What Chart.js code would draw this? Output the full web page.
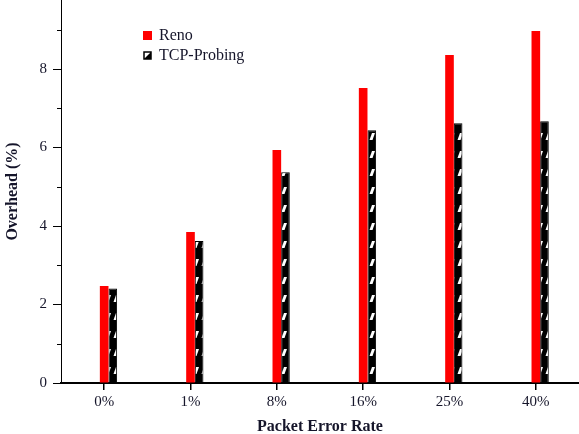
<!DOCTYPE html>
<html>
<head>
<meta charset="utf-8">
<script src="https://cdn.jsdelivr.net/npm/chart.js@4.4.1/dist/chart.umd.min.js"></script>
<style>
  html, body { margin: 0; padding: 0; background: #fff; }
  #wrap { width: 579px; height: 434px; position: relative; }
</style>
</head>
<body>
<div id="wrap"><canvas id="overheadChart"></canvas></div>
<script>
// --- data ---
const categories = ['0%', '1%', '8%', '16%', '25%', '40%'];
const renoValues = [2.47, 3.85, 5.94, 7.52, 8.36, 8.97];
const probingValues = [2.41, 3.62, 5.37, 6.44, 6.62, 6.67];
const yMajorTicks = [0, 2, 4, 6, 8];
const yMinorTicks = [1, 3, 5, 7, 9];
const seriesNames = ['Reno', 'TCP-Probing'];

const SERIF = '"Liberation Serif", "Times New Roman", serif';
const TEXT = '#15152a';

// black bar with white slanted dashes
function makeHatch() {
    const c = document.createElement('canvas');
    c.width = 8; c.height = 18;
    const g = c.getContext('2d');
    g.fillStyle = '#000';
    g.fillRect(0, 0, 8, 18);
    g.fillStyle = '#fff';
    g.beginPath();
    g.moveTo(1.5, 14); g.lineTo(4.5, 14); g.lineTo(7, 7); g.lineTo(4, 7);
    g.closePath();
    g.fill();
    return g.createPattern(c, 'repeat');
}
const hatch = makeHatch();

// short minor ticks on the y axis + legend inside the plot
const extras = {
    id: 'extras',
    afterDraw(chart) {
        const ctx = chart.ctx;
        const y = chart.scales.y;
        const left = chart.chartArea.left;
        ctx.save();
        ctx.strokeStyle = '#000';
        ctx.lineWidth = 1;
        yMinorTicks.forEach(v => {
            const py = Math.round(y.getPixelForValue(v)) + 0.5;
            ctx.beginPath();
            ctx.moveTo(left - 4, py);
            ctx.lineTo(left, py);
            ctx.stroke();
        });

        // legend
        const lx = left + 82, ly = chart.chartArea.top + 35;
        ctx.font = '16px ' + SERIF;
        ctx.textBaseline = 'middle';
        ctx.fillStyle = '#ff0000';
        ctx.fillRect(lx, ly - 4, 9, 9);
        ctx.fillStyle = TEXT;
        ctx.fillText(seriesNames[0], lx + 16, ly + 1);

        const ty = ly + 20;
        ctx.fillStyle = '#fff';
        ctx.fillRect(lx + 1, ty - 3, 7, 7);
        ctx.fillStyle = '#000';
        ctx.beginPath();
        ctx.moveTo(lx + 8, ty - 3); ctx.lineTo(lx + 8, ty + 4); ctx.lineTo(lx + 1, ty + 4);
        ctx.closePath(); ctx.fill();
        ctx.lineWidth = 1.5;
        ctx.strokeRect(lx + 1, ty - 3, 7, 7);
        ctx.fillStyle = TEXT;
        ctx.fillText(seriesNames[1], lx + 16, ty + 1);
        ctx.restore();
    }
};

new Chart(document.getElementById('overheadChart'), {
    type: 'bar',
    data: {
        labels: categories,
        datasets: [
            // empty slot so the pair sits just right of the tick, like the original
            { label: '', data: [], backgroundColor: 'rgba(0,0,0,0)', borderWidth: 0 },
            { label: seriesNames[0], data: renoValues, backgroundColor: '#ff0000', borderWidth: 0 },
            { label: seriesNames[1], data: probingValues, backgroundColor: hatch, borderColor: '#000', borderWidth: 1 }
        ]
    },
    options: {
        responsive: true,
        maintainAspectRatio: false,
        animation: false,
        layout: { padding: 0 },
        datasets: { bar: { categoryPercentage: 0.3, barPercentage: 1 } },
        plugins: { legend: { display: false }, tooltip: { enabled: false } },
        scales: {
            x: {
                offset: true,
                grid: { display: true, drawOnChartArea: false, offset: false, tickLength: 7, color: '#000', lineWidth: 1.5 },
                border: { display: true, color: '#000', width: 2 },
                ticks: { color: TEXT, font: { family: SERIF, size: 15 }, padding: 3, maxRotation: 0 },
                title: { display: true, text: 'Packet Error Rate', color: TEXT, font: { family: SERIF, size: 16, weight: 'bold' }, padding: { top: 0, bottom: -2 } },
                afterFit(scale) { scale.height = 51; scale.paddingLeft = 0; scale.paddingRight = 0; }
            },
            y: {
                min: 0,
                max: 9.76,
                afterBuildTicks(scale) { scale.ticks = yMajorTicks.map(v => ({ value: v })); },
                grid: { display: true, drawOnChartArea: false, tickLength: 8, color: '#000', lineWidth: 1 },
                border: { display: true, color: '#000', width: 1 },
                ticks: { color: TEXT, font: { family: SERIF, size: 15 }, padding: 6 },
                title: { display: true, text: 'Overhead (%)', color: TEXT, font: { family: SERIF, size: 16, weight: 'bold' }, padding: { top: 3, bottom: 0 } },
                afterFit(scale) { scale.width = 61; scale.paddingTop = 0; scale.paddingBottom = 0; }
            }
        }
    },
    plugins: [extras]
});
</script>
</body>
</html>
